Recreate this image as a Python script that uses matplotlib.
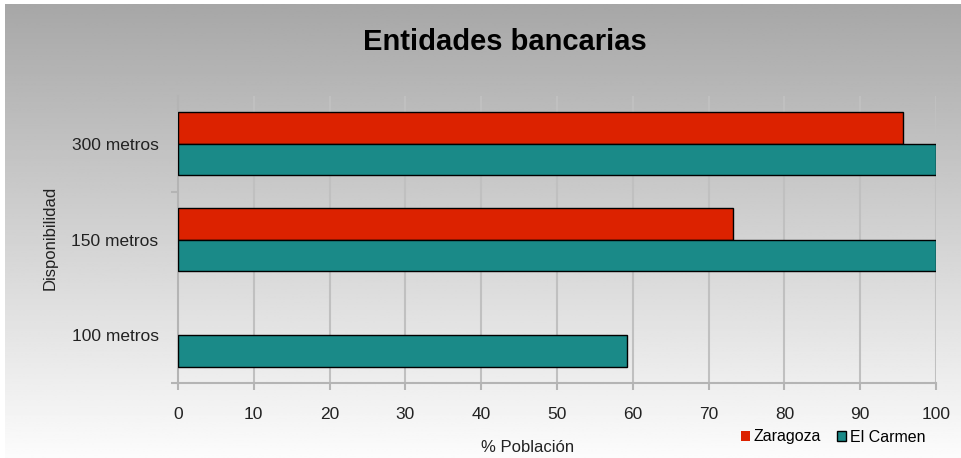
import numpy as np
import matplotlib
matplotlib.use("Agg")
import matplotlib.pyplot as plt

categories = ["100 metros", "150 metros", "300 metros"]
zaragoza = [0.0, 73.2, 95.7]
el_carmen = [59.2, 100.0, 100.0]
series_names = ["Zaragoza", "El Carmen"]
x_ticks = [0, 10, 20, 30, 40, 50, 60, 70, 80, 90, 100]

plt.rcParams["font.family"] = ["Liberation Sans", "DejaVu Sans"]

W, H = 962, 458
fig = plt.figure(figsize=(W / 100, H / 100), dpi=100)
fig.patch.set_facecolor("white")

# vertical gray gradient behind everything
bg = fig.add_axes([5 / W, 0, 1 - 5 / W, 1 - 4 / H], zorder=0)
grad = np.linspace(167, 252, 256)[:, None] / 255.0
bg.imshow(np.repeat(grad, 2, axis=1), aspect="auto", cmap="gray", vmin=0, vmax=1,
          extent=[0, 1, 0, 1], origin="upper")
bg.set_axis_off()

ax = fig.add_axes([178 / W, 1 - 383 / H, (936 - 178) / W, (383 - 96) / H], zorder=1)
ax.set_facecolor("none")

y = np.arange(len(categories))
h = 0.33
red = "#dc2200"
teal = "#1a8a88"
b1 = ax.barh(y + h / 2, zaragoza, height=h, color=red,
             edgecolor=["black" if v > 0 else "none" for v in zaragoza],
             linewidth=1.0, zorder=3, label=series_names[0])
b2 = ax.barh(y - h / 2, el_carmen, height=h, color=teal,
             edgecolor=["black" if v > 0 else "none" for v in el_carmen],
             linewidth=1.0, zorder=3, label=series_names[1])

ax.set_xlim(0, 100)
ax.set_ylim(-0.5, len(categories) - 0.5)
ax.set_xticks(x_ticks)
ax.set_xticklabels([str(v) for v in x_ticks], fontsize=12.5, color="#222222")
ax.set_yticks(y)
ax.set_yticklabels(categories, fontsize=12.5, color="#222222")
ax.set_yticks([-0.5, 1.5], minor=True)

ax.tick_params(axis="x", length=5, width=1.5, color="#b4b4b4", pad=12)
ax.tick_params(axis="y", which="major", length=0, pad=14)
ax.tick_params(axis="y", which="minor", length=5, width=1.5, color="#b4b4b4")

for v in x_ticks[1:]:
    ax.axvline(v, color="#c0c0c0", linewidth=1.5, zorder=1)

for s in ["top", "right"]:
    ax.spines[s].set_visible(False)
for s in ["left", "bottom"]:
    ax.spines[s].set_color("#b4b4b4")
    ax.spines[s].set_linewidth(1.5)

fig.text(505 / W, 1 - 42 / H, "Entidades bancarias", fontsize=21, fontweight="bold",
         ha="center", va="center", color="black")
fig.text(528 / W, 1 - 447 / H, "% Población", fontsize=12, ha="center", va="center",
         color="#222222")
fig.text(50 / W, 1 - 238 / H, "Disponibilidad", fontsize=12, ha="center", va="center",
         rotation=90, color="#222222")

fig.legend(handles=[b1, b2], labels=series_names, loc="center right",
           bbox_to_anchor=(925 / W, 1 - 437 / H), ncol=2, frameon=False, fontsize=11.5,
           handlelength=0.6, handleheight=0.6, handletextpad=0.2, columnspacing=1.0,
           borderpad=0, borderaxespad=0)

fig.savefig("out.png", dpi=100)
